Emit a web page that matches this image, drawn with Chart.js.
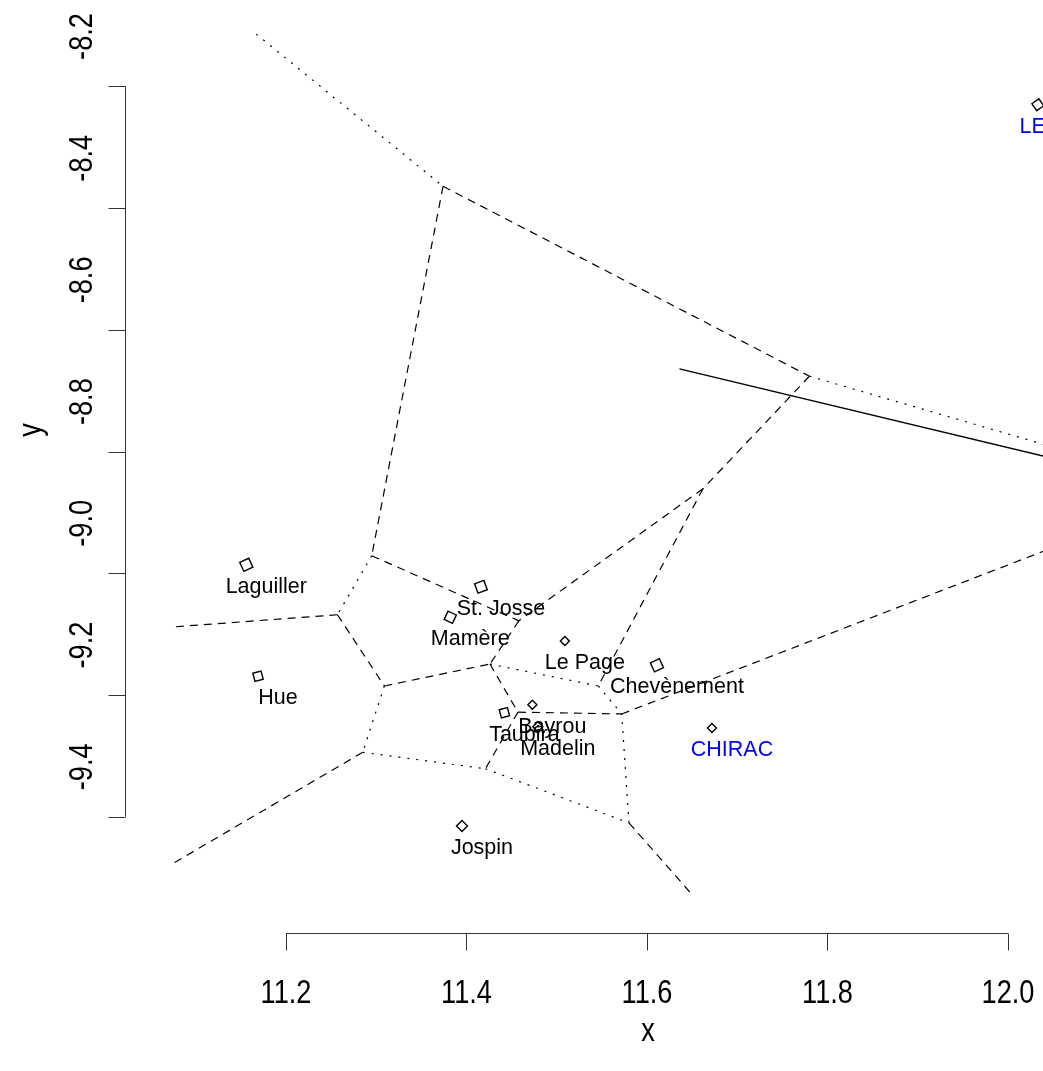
<!DOCTYPE html>
<html>
<head>
<meta charset="utf-8">
<script src="https://cdn.jsdelivr.net/npm/chart.js@4.4.0/dist/chart.umd.min.js"></script>
<style>
  body { margin: 0; background: #fff; }
  canvas { display: block; }
</style>
</head>
<body>
<canvas id="voronoiChart" width="1043" height="1071"></canvas>
<script>
// Candidates and their positions
const candidates = ['LE PEN', 'Laguiller', 'Hue', 'St. Josse', 'Mamère', 'Le Page', 'Chevènement', 'Bayrou', 'Taubira', 'Madelin', 'CHIRAC', 'Jospin'];
const candX = [12.033, 11.156, 11.169, 11.416, 11.382, 11.509, 11.611, 11.473, 11.442, 11.479, 11.672, 11.395];
const candY = [-8.230, -8.986, -9.169, -9.022, -9.072, -9.111, -9.151, -9.216, -9.229, -9.252, -9.254, -9.415];
const secondRound = ['LE PEN', 'CHIRAC'];

// Voronoi edges, [x1, y1, x2, y2]
const dashedEdges = [
  [11.374, -8.364, 11.780, -8.676],
  [11.374, -8.364, 11.295, -8.971],
  [11.780, -8.676, 11.662, -8.861],
  [11.662, -8.861, 11.458, -9.078],
  [11.662, -8.861, 11.546, -9.185],
  [11.295, -8.971, 11.458, -9.078],
  [11.257, -9.068, 11.075, -9.088],
  [11.257, -9.068, 11.309, -9.185],
  [11.309, -9.185, 11.426, -9.149],
  [11.285, -9.294, 11.072, -9.479],
  [11.458, -9.078, 11.426, -9.149],
  [11.426, -9.149, 11.457, -9.228],
  [11.457, -9.228, 11.572, -9.231],
  [11.457, -9.228, 11.421, -9.321],
  [11.580, -9.410, 11.650, -9.528],
  [11.572, -9.231, 12.058, -8.953]
];
const dottedEdges = [
  [11.167, -8.114, 11.374, -8.364],
  [11.780, -8.676, 12.058, -8.796],
  [11.295, -8.971, 11.257, -9.068],
  [11.309, -9.185, 11.285, -9.294],
  [11.285, -9.294, 11.421, -9.321],
  [11.426, -9.149, 11.546, -9.185],
  [11.546, -9.185, 11.572, -9.231],
  [11.421, -9.321, 11.580, -9.410],
  [11.580, -9.410, 11.572, -9.231]
];
const solidLine = [11.636, -8.664, 12.058, -8.814];

const xTicks = [11.2, 11.4, 11.6, 11.8, 12.0];
const yTicks = [-8.2, -8.4, -8.6, -8.8, -9.0, -9.2, -9.4];

// marker look
const markerRadius = [6, 7, 6, 7, 6.5, 4.5, 7, 4.5, 6, 5, 4.5, 5.5];
const markerRotation = [10, 20, 30, 25, -20, 0, 20, 0, 30, 0, 0, 0];

function edgeDataset(e, dash, width) {
  return {
    data: [{ x: e[0], y: e[1] }, { x: e[2], y: e[3] }],
    showLine: true,
    borderColor: '#000',
    borderWidth: width,
    borderDash: dash,
    pointRadius: 0,
    pointHoverRadius: 0
  };
}

const datasets = [
  ...dashedEdges.map(e => edgeDataset(e, [8, 6], 1.2)),
  ...dottedEdges.map(e => edgeDataset(e, [2, 7], 1.2)),
  edgeDataset(solidLine, [], 1.5),
  {
    data: candX.map((x, i) => ({ x, y: candY[i] })),
    showLine: false,
    pointStyle: 'rectRot',
    pointRadius: markerRadius,
    pointRotation: markerRotation,
    pointBorderColor: '#000',
    pointBackgroundColor: 'rgba(0,0,0,0)',
    pointBorderWidth: 1.4
  }
];

const FONT = '"Liberation Sans", Arial, sans-serif';

function narrowText(ctx, text, x, y, rot) {
  ctx.save();
  ctx.translate(x, y);
  if (rot) ctx.rotate(rot);
  ctx.scale(0.8, 1);
  ctx.fillText(text, 0, 0);
  ctx.restore();
}

// R-style axes: line only between first and last tick
const rAxes = {
  id: 'rAxes',
  afterDraw(chart) {
    const { ctx, chartArea, scales: { x, y } } = chart;
    ctx.save();
    ctx.strokeStyle = '#333';
    ctx.lineWidth = 1;
    const xb = chartArea.bottom + 0.5;
    ctx.beginPath();
    ctx.moveTo(x.getPixelForValue(xTicks[0]), xb);
    ctx.lineTo(x.getPixelForValue(xTicks[xTicks.length - 1]), xb);
    xTicks.forEach(v => {
      const p = Math.round(x.getPixelForValue(v)) + 0.5;
      ctx.moveTo(p, xb);
      ctx.lineTo(p, xb + 17);
    });
    const yl = chartArea.left + 0.5;
    ctx.moveTo(yl, y.getPixelForValue(yTicks[0]));
    ctx.lineTo(yl, y.getPixelForValue(yTicks[yTicks.length - 1]));
    yTicks.forEach(v => {
      const p = Math.round(y.getPixelForValue(v)) + 0.5;
      ctx.moveTo(yl, p);
      ctx.lineTo(yl - 17, p);
    });
    ctx.stroke();

    ctx.fillStyle = '#000';
    ctx.font = '34px ' + FONT;
    ctx.textAlign = 'center';
    ctx.textBaseline = 'alphabetic';
    xTicks.forEach(v => narrowText(ctx, v.toFixed(1), x.getPixelForValue(v), chartArea.bottom + 70));
    yTicks.forEach(v => narrowText(ctx, v.toFixed(1), chartArea.left - 33, y.getPixelForValue(v) - 50, -Math.PI / 2));
    narrowText(ctx, 'x', 648, chartArea.bottom + 108);
    narrowText(ctx, 'y', 41, 430, -Math.PI / 2);
    ctx.restore();
  }
};

const pointLabels = {
  id: 'pointLabels',
  afterDatasetsDraw(chart) {
    const { ctx, scales: { x, y } } = chart;
    ctx.save();
    ctx.font = '21.5px ' + FONT;
    ctx.textAlign = 'center';
    ctx.textBaseline = 'alphabetic';
    candidates.forEach((name, i) => {
      ctx.fillStyle = secondRound.includes(name) ? '#0000ff' : '#000';
      ctx.fillText(name, x.getPixelForValue(candX[i]) + 20, y.getPixelForValue(candY[i]) + 28);
    });
    ctx.restore();
  }
};

new Chart(document.getElementById('voronoiChart'), {
  type: 'scatter',
  data: { datasets },
  options: {
    responsive: false,
    animation: false,
    layout: { autoPadding: false, padding: { left: 125, top: 0, right: 0, bottom: 138 } },
    plugins: { legend: { display: false }, tooltip: { enabled: false } },
    scales: {
      x: { type: 'linear', display: false, min: 11.0216, max: 12.0388 },
      y: { type: 'linear', display: false, min: -9.5909, max: -8.0579 }
    }
  },
  plugins: [rAxes, pointLabels]
});
</script>
</body>
</html>
